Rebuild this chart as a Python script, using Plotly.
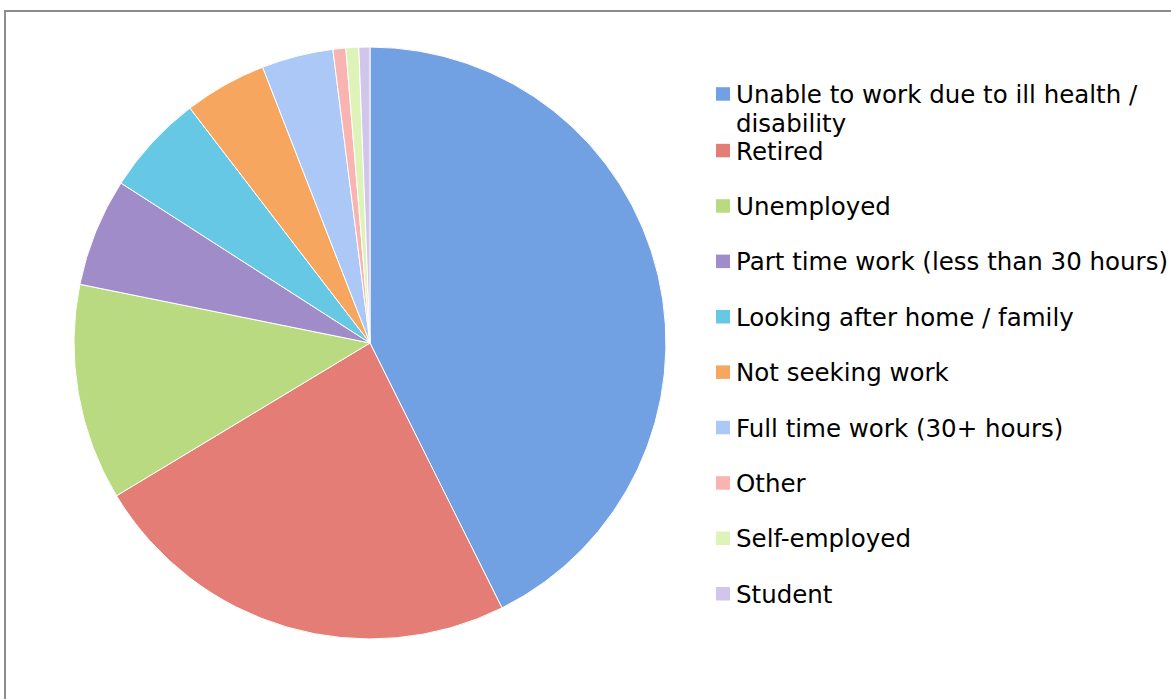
import plotly.graph_objects as go

# Employment status breakdown (share of respondents, %)
categories = [
    "Unable to work due to ill health / disability",
    "Retired",
    "Unemployed",
    "Part time work (less than 30 hours)",
    "Looking after home / family",
    "Not seeking work",
    "Full time work (30+ hours)",
    "Other",
    "Self-employed",
    "Student",
]
# Key text per category; the first one wraps onto a second line
legend_lines = [
    ["Unable to work due to ill health /", "disability"],
    ["Retired"],
    ["Unemployed"],
    ["Part time work (less than 30 hours)"],
    ["Looking after home / family"],
    ["Not seeking work"],
    ["Full time work (30+ hours)"],
    ["Other"],
    ["Self-employed"],
    ["Student"],
]
shares = [42.6, 23.7, 11.8, 5.9, 5.5, 4.5, 3.9, 0.7, 0.7, 0.6]

colors = [
    "#72a1e3", "#e47d76", "#b9da80", "#a08cc8", "#66c8e4",
    "#f7a660", "#abc8f7", "#f9b3b0", "#ddf3b8", "#d2c5ec",
]

W, H = 1171, 699
FONT = "DejaVu Sans, Verdana, sans-serif"
FONT_SIZE = 24.5
ASCENT = 0.928  # DejaVu Sans ascent as a fraction of the font size

fig = go.Figure(
    go.Pie(
        labels=categories,
        values=shares,
        hovertemplate="%{label}: %{value}%<extra></extra>",
        sort=False,
        direction="clockwise",
        rotation=0,
        textinfo="none",
        showlegend=False,
        marker=dict(colors=colors, line=dict(color="#ffffff", width=1)),
        domain=dict(x=[0.0632, 0.5687], y=[0.0858, 0.9328]),
    )
)

# Key column: swatch + label per category, laid out by text baseline (px from top)
first_baseline = 101.7
row_step = 55.4
wrap_step = 29.5
baselines = [first_baseline] + [158.3 + row_step * k for k in range(len(categories) - 1)]

annotations = []
shapes = []
for lines, color, bl in zip(legend_lines, colors, baselines):
    for j, line in enumerate(lines):
        line_bl = bl + j * wrap_step
        top = line_bl - ASCENT * FONT_SIZE
        annotations.append(dict(
            text=line, xref="paper", yref="paper",
            x=735 / W, y=1 - top / H, xanchor="left", yanchor="top",
            align="left", showarrow=False, borderpad=0,
            font=dict(family=FONT, size=FONT_SIZE, color="#000000"),
        ))
    shapes.append(dict(
        type="rect", xref="paper", yref="paper",
        x0=716 / W, x1=730 / W,
        y0=1 - (bl - 1) / H, y1=1 - (bl - 14.5) / H,
        line=dict(width=0), fillcolor=color,
    ))

# Chart-area frame
shapes.append(dict(
    type="rect", xref="paper", yref="paper",
    x0=5 / W, x1=1.02, y0=-0.02, y1=1 - 11 / H,
    line=dict(color="#8c8c8c", width=2),
    fillcolor="rgba(0,0,0,0)",
    layer="below",
))

fig.update_layout(
    width=W,
    height=H,
    margin=dict(l=0, r=0, t=0, b=0),
    paper_bgcolor="white",
    plot_bgcolor="white",
    font=dict(family=FONT, color="#000000"),
    annotations=annotations,
    shapes=shapes,
)

fig.write_html("out.html")
